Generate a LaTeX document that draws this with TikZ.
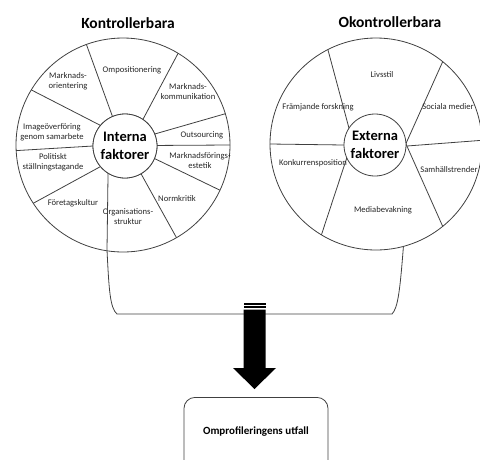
\documentclass[tikz,border=0pt]{standalone}
\usepackage{fontspec}
\setmainfont{Carlito}
\begin{document}
\begin{tikzpicture}[x=1pt,y=-1pt,
  line/.style={draw=black!75, line width=0.8pt},
  lbl/.style={font=\fontsize{8.6}{10}\selectfont, align=center, inner sep=0pt, text=black!85},
  ttl/.style={font=\fontsize{15.5}{17}\selectfont\bfseries, inner sep=0pt},
  hub/.style={circle, draw=black!75, line width=0.8pt, fill=white, inner sep=0pt, outer sep=0pt, align=center, font=\fontsize{14.5}{17.5}\selectfont\bfseries},
  wheel/.style={circle, draw=black!75, line width=0.8pt, inner sep=0pt, outer sep=0pt}]
\useasboundingbox (0,0) rectangle (480,459);
% titles
\node[ttl] (tL) at (128,23) {Kontrollerbara};
\node[ttl] (tR) at (390,22) {Okontrollerbara};
% left wheel
\node[wheel, minimum size=214pt] (Lout) at (123,145) {};
\node[hub, minimum size=64pt] (Lin) at (125,146) {};
\draw[line] (Lin.113) -- (Lout.110);
\draw[line] (Lin.56) -- (Lout.59);
\draw[line] (Lin.22) -- (Lout.17);
\draw[line] (Lin.1) -- (Lout.0);
\draw[line] (Lin.-23) -- (Lout.-25);
\draw[line] (Lin.-60) -- (Lout.-60);
\draw[line] (Lin.-140) -- (Lout.-147);
\draw[line] (Lin.180) -- (Lout.-177);
\draw[line] (Lin.140) -- (Lout.149);
\node[hub, minimum size=64pt] (LinT) at (125,146) {Interna\\faktorer};
% right wheel
\node[wheel, minimum size=212pt] (Rout) at (376,144) {};
\draw[line] (375,145) ++(117:31) -- (Rout.117);
\draw[line] (375,145) ++(51:31) -- (Rout.51);
\draw[line] (375,145) ++(2:31) -- (Rout.2);
\draw[line] (375,145) ++(-46:31) -- (Rout.-51);
\draw[line] (375,145) ++(-119:31) -- (Rout.-121);
\draw[line] (375,145) ++(180:31) -- (Rout.180);
\node[hub, minimum size=62pt] (Rin) at (375,145) {Externa\\faktorer};
% left labels
\node[lbl] (a1) at (132,70) {Ompositionering};
\node[lbl] (a2) at (188,92) {Marknads-\\kommunikation};
\node[lbl] (a3) at (202,135) {Outsourcing};
\node[lbl] (a4) at (200,161) {Marknadsförings-\\estetik};
\node[lbl] (a5) at (177,199) {Normkritik};
\node[lbl] (a6) at (128,217) {Organisations-\\struktur};
\node[lbl] (a7) at (73,203) {Företagskultur};
\node[lbl] (a8) at (53,162) {Politiskt\\ställningstagande};
\node[lbl] (a9) at (52,132) {Imageöverföring\\genom samarbete};
\node[lbl] (a10) at (68,81) {Marknads-\\orientering};
% right labels
\node[lbl] (b1) at (382,75) {Livsstil};
\node[lbl] (b2) at (448,107) {Sociala medier};
\node[lbl] (b3) at (449,170) {Samhällstrender};
\node[lbl] (b4) at (383,210) {Mediabevakning};
\node[lbl] (b5) at (313,163) {Konkurrensposition};
\node[lbl] (b6) at (318,107) {Främjande forskning};
% bracket joining both wheels
\coordinate (bl) at (107,250);
\draw[line] (Lin.-122) -- (bl) .. controls (109,290) and (110,308) .. (117,314) -- (392,314) .. controls (398,308) and (400,290) .. (Rout.-75);
% arrow
\coordinate (atop) at (254.5,310);
\coordinate (atip) at (254.5,389);
\fill (243.5,303.3) rectangle (265.5,304.8);
\fill (243.5,306.3) rectangle (265.5,307.8);
\fill (243.5,309.5) -- (265.5,309.5) -- (265.5,368) -- (276,368) -- (atip) -- (233,368) -- (243.5,368) -- cycle;
% outcome box
\node[draw=black!75, line width=0.8pt, rounded corners=11pt, minimum width=144pt, minimum height=80pt, anchor=north, inner sep=0pt] (box) at (256,397) {};
\node[font=\fontsize{11}{13}\selectfont\bfseries, inner sep=0pt] (boxtxt) at (256,432) {Omprofileringens utfall};
\end{tikzpicture}
\end{document}
